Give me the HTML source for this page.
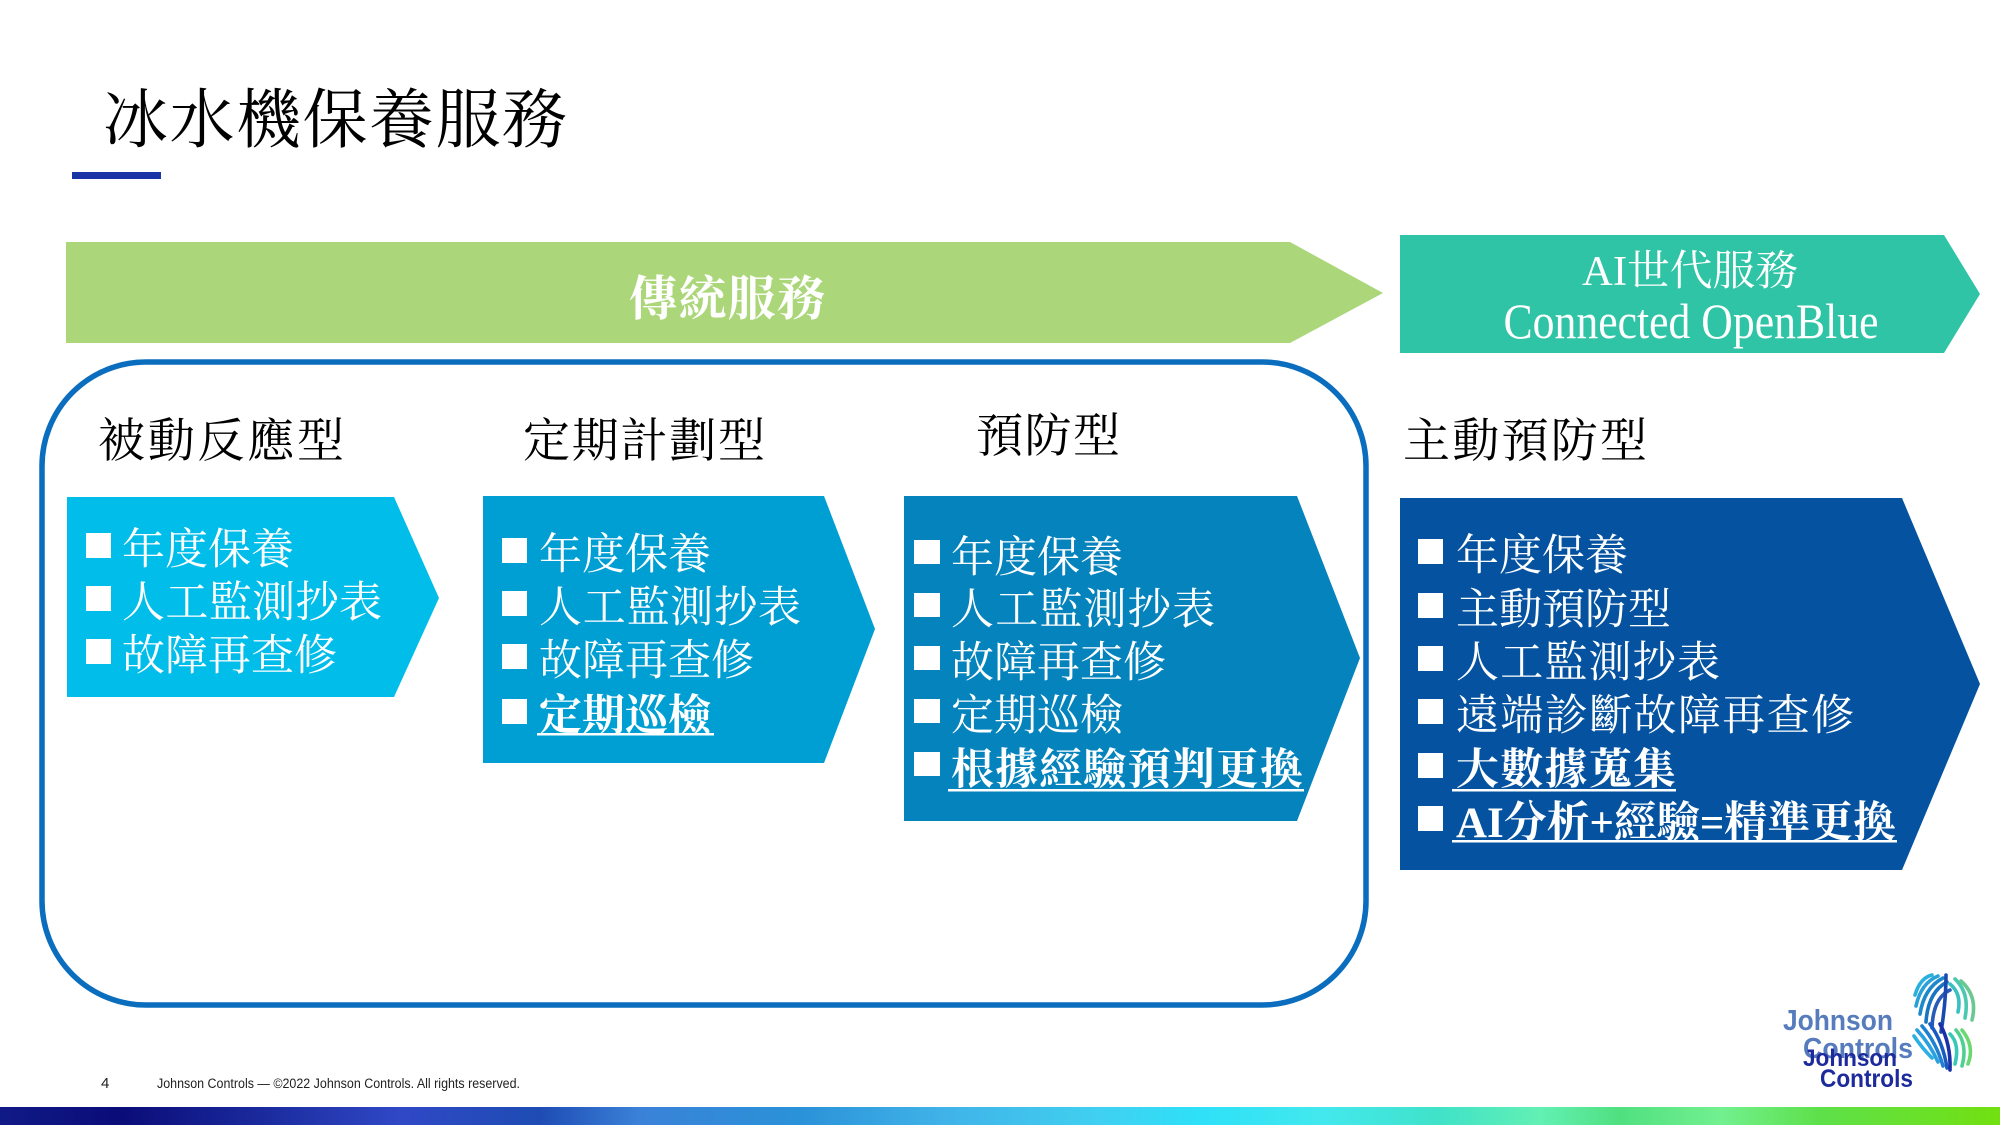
<!DOCTYPE html>
<html>
<head>
<meta charset="utf-8">
<style>
html,body{margin:0;padding:0;background:#fff;}
body{width:2000px;height:1125px;overflow:hidden;}
svg{display:block;}
.cjk{font-family:"Liberation Serif","Noto Serif CJK SC","Noto Serif CJK TC",serif;}
.sans{font-family:"Liberation Sans",sans-serif;}
</style>
</head>
<body>
<svg width="2000" height="1125" viewBox="0 0 2000 1125" xmlns="http://www.w3.org/2000/svg">
  <defs>
    <linearGradient id="bar" x1="0" y1="0" x2="1" y2="0">
      <stop offset="0" stop-color="#101a86"/>
      <stop offset="0.06" stop-color="#0a0c78"/>
      <stop offset="0.13" stop-color="#1a2a9c"/>
      <stop offset="0.2" stop-color="#3048c6"/>
      <stop offset="0.27" stop-color="#1e4cb4"/>
      <stop offset="0.32" stop-color="#3a82d8"/>
      <stop offset="0.4" stop-color="#2a92d8"/>
      <stop offset="0.47" stop-color="#40b2e8"/>
      <stop offset="0.55" stop-color="#40d0f0"/>
      <stop offset="0.6" stop-color="#2ee0f8"/>
      <stop offset="0.66" stop-color="#42e8ee"/>
      <stop offset="0.72" stop-color="#40e2c8"/>
      <stop offset="0.77" stop-color="#62f0b4"/>
      <stop offset="0.81" stop-color="#50e080"/>
      <stop offset="0.86" stop-color="#72f090"/>
      <stop offset="0.91" stop-color="#5ee04a"/>
      <stop offset="1" stop-color="#72e010"/>
    </linearGradient>
  </defs>

  <!-- Title -->
  <text class="cjk" x="103" y="142" font-size="65" fill="#000" textLength="464" lengthAdjust="spacing">冰水機保養服務</text>
  <rect x="72" y="172" width="89" height="7" fill="#1a34a6"/>

  <!-- Green arrow -->
  <polygon points="66,242 1290,242 1383,293 1290,343 66,343" fill="#acd67a"/>
  <text class="cjk" x="629" y="315" font-size="48" font-weight="bold" fill="#fff" textLength="196" lengthAdjust="spacing">傳統服務</text>

  <!-- Teal arrow -->
  <polygon points="1400,235 1944,235 1980,294 1944,353 1400,353" fill="#2fc4a5"/>
  <text class="cjk" x="1690" y="285" font-size="42" fill="#fff" text-anchor="middle" textLength="216" lengthAdjust="spacingAndGlyphs">AI世代服務</text>
  <text class="cjk" x="1691" y="338" font-size="50" fill="#fff" text-anchor="middle" textLength="375" lengthAdjust="spacingAndGlyphs">Connected OpenBlue</text>

  <!-- Rounded outline -->
  <rect x="42" y="362" width="1324" height="643" rx="104" ry="104" fill="none" stroke="#0b6dbd" stroke-width="5.5"/>

  <!-- Column headers -->
  <text class="cjk" x="98" y="457" font-size="47" fill="#000" textLength="246" lengthAdjust="spacing">被動反應型</text>
  <text class="cjk" x="523" y="457" font-size="47" fill="#000" textLength="242" lengthAdjust="spacing">定期計劃型</text>
  <text class="cjk" x="976" y="452" font-size="47" fill="#000" textLength="144" lengthAdjust="spacing">預防型</text>
  <text class="cjk" x="1403" y="457" font-size="47" fill="#000" textLength="244" lengthAdjust="spacing">主動預防型</text>

  <!-- Box 1 -->
  <polygon points="67,497 394,497 439,598 394,697 67,697" fill="#00bdea"/>
  <g fill="#fff">
    <rect x="86" y="533" width="25" height="25"/>
    <rect x="86" y="586" width="25" height="25"/>
    <rect x="86" y="639" width="25" height="25"/>
  </g>
  <g class="cjk" font-size="43" fill="#fff">
    <text x="122" y="564">年度保養</text>
    <text x="122" y="617" textLength="260" lengthAdjust="spacing">人工監測抄表</text>
    <text x="122" y="670">故障再查修</text>
  </g>

  <!-- Box 2 -->
  <polygon points="483,496 824,496 875,629 824,763 483,763" fill="#009fd3"/>
  <g fill="#fff">
    <rect x="502" y="538" width="25" height="25"/>
    <rect x="502" y="591" width="25" height="25"/>
    <rect x="502" y="644" width="25" height="25"/>
    <rect x="502" y="699" width="25" height="25"/>
  </g>
  <g class="cjk" font-size="43" fill="#fff">
    <text x="539" y="569">年度保養</text>
    <text x="539" y="622" textLength="262" lengthAdjust="spacing">人工監測抄表</text>
    <text x="539" y="675">故障再查修</text>
    <text x="539" y="730" font-weight="bold">定期巡檢</text>
  </g>
  <rect x="537" y="733" width="177" height="2.5" fill="#fff"/>

  <!-- Box 3 -->
  <polygon points="904,496 1297,496 1360,658 1297,821 904,821" fill="#0483bc"/>
  <g fill="#fff">
    <rect x="914" y="540" width="26" height="24"/>
    <rect x="914" y="593" width="26" height="24"/>
    <rect x="914" y="646" width="26" height="24"/>
    <rect x="914" y="699" width="26" height="24"/>
    <rect x="914" y="752" width="26" height="24"/>
  </g>
  <g class="cjk" font-size="43" fill="#fff">
    <text x="951" y="572">年度保養</text>
    <text x="951" y="624" textLength="264" lengthAdjust="spacing">人工監測抄表</text>
    <text x="951" y="677">故障再查修</text>
    <text x="951" y="730">定期巡檢</text>
    <text x="951" y="784" font-weight="bold" textLength="352" lengthAdjust="spacing">根據經驗預判更換</text>
  </g>
  <rect x="948" y="789" width="356" height="2.5" fill="#fff"/>

  <!-- Box 4 -->
  <polygon points="1400,498 1902,498 1980,684 1902,870 1400,870" fill="#0553a0"/>
  <g fill="#fff">
    <rect x="1418" y="539" width="25" height="25"/>
    <rect x="1418" y="593" width="25" height="25"/>
    <rect x="1418" y="646" width="25" height="25"/>
    <rect x="1418" y="699" width="25" height="25"/>
    <rect x="1418" y="753" width="25" height="25"/>
    <rect x="1418" y="806" width="25" height="25"/>
  </g>
  <g class="cjk" font-size="43" fill="#fff">
    <text x="1456" y="570">年度保養</text>
    <text x="1456" y="624">主動預防型</text>
    <text x="1456" y="677" textLength="264" lengthAdjust="spacing">人工監測抄表</text>
    <text x="1456" y="730" textLength="398" lengthAdjust="spacing">遠端診斷故障再查修</text>
    <text x="1456" y="784" font-weight="bold" textLength="220" lengthAdjust="spacing">大數據蒐集</text>
    <text x="1456" y="837" font-weight="bold" textLength="440" lengthAdjust="spacingAndGlyphs">AI分析+經驗=精準更換</text>
  </g>
  <rect x="1452" y="789" width="224" height="2.5" fill="#fff"/>
  <rect x="1452" y="840" width="445" height="2.5" fill="#fff"/>

  <!-- Footer -->
  <text class="sans" x="101" y="1088" font-size="15" fill="#222">4</text>
  <text class="sans" x="157" y="1088" font-size="13.5" fill="#222" textLength="363" lengthAdjust="spacingAndGlyphs">Johnson Controls  — ©2022 Johnson Controls. All rights reserved.</text>

  <!-- Logo -->
  <g class="sans" font-weight="bold">
    <text x="1783" y="1030" font-size="29" fill="#3a66b2" opacity="0.85" textLength="110" lengthAdjust="spacingAndGlyphs">Johnson</text>
    <text x="1803" y="1058" font-size="29" fill="#3a66b2" opacity="0.85" textLength="110" lengthAdjust="spacingAndGlyphs">Controls</text>
    <text x="1803" y="1066" font-size="24" fill="#1c2a9c" textLength="94" lengthAdjust="spacingAndGlyphs">Johnson</text>
    <text x="1820" y="1087" font-size="25" fill="#1c2a9c" textLength="93" lengthAdjust="spacingAndGlyphs">Controls</text>
  </g>
  <g fill="none" stroke-width="3.6" stroke-linecap="round">
    <path d="M1915,995 Q1920,978 1932,975" stroke="#2ab0dc"/>
    <path d="M1916,1006 Q1921,983 1938,976" stroke="#2aa0d8"/>
    <path d="M1920,1014 Q1924,988 1943,978" stroke="#1e88cc"/>
    <path d="M1926,1022 Q1928,992 1947,982" stroke="#1a74c4"/>
    <path d="M1932,1028 Q1933,998 1950,990" stroke="#2a5ab8"/>
    <path d="M1941,1032 Q1946,1002 1946,975" stroke="#1a4ab0"/>
    <path d="M1914,1036 Q1922,1048 1932,1058" stroke="#2ab0e4"/>
    <path d="M1917,1030 Q1930,1044 1938,1062" stroke="#2aa0e0"/>
    <path d="M1922,1026 Q1936,1042 1943,1066" stroke="#1e80d0"/>
    <path d="M1930,1024 Q1943,1042 1947,1068" stroke="#1a5ac0"/>
    <path d="M1940,1024 Q1951,1044 1950,1070" stroke="#1a30a8"/>
    <path d="M1950,984 Q1962,994 1958,1012" stroke="#38c0c0"/>
    <path d="M1955,979 Q1970,993 1965,1018" stroke="#4ac8b0"/>
    <path d="M1961,981 Q1978,996 1972,1020" stroke="#6ac890"/>
    <path d="M1950,1034 Q1960,1044 1955,1064" stroke="#38c8b8"/>
    <path d="M1956,1030 Q1968,1044 1962,1066" stroke="#50d090"/>
    <path d="M1962,1030 Q1975,1046 1968,1064" stroke="#6ad870"/>
  </g>

  <!-- Bottom gradient bar -->
  <rect x="0" y="1107" width="2000" height="18" fill="url(#bar)"/>
</svg>
</body>
</html>
